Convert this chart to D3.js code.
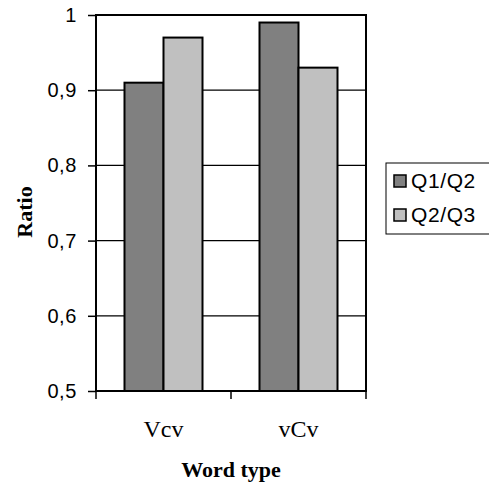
<!DOCTYPE html>
<html>
<head>
<meta charset="utf-8">
<script src="https://cdn.jsdelivr.net/npm/d3@7"></script>
<style>
  body { margin: 0; background: #fff; }
  .tick text { font-family: "Liberation Sans", Arial, sans-serif; }
</style>
</head>
<body>
<div id="chart"></div>
<script>
// word types on the x axis
var wordTypes = ["Vcv", "vCv"];
// the two ratio series
var seriesNames = ["Q1/Q2", "Q2/Q3"];
var q1q2 = [0.91, 0.99];
var q2q3 = [0.97, 0.93];
var yTicks = [0.5, 0.6, 0.7, 0.8, 0.9, 1];

var colors = ["#808080", "#c0c0c0"];

var margin = {top: 15, right: 123, bottom: 95, left: 96};
var width = 489 - margin.left - margin.right;
var height = 486 - margin.top - margin.bottom;

var svg = d3.select("#chart")
    .append("svg")
    .attr("width", 489)
    .attr("height", 486)
    .append("g")
    .attr("transform", "translate(" + margin.left + "," + margin.top + ")");

var data = wordTypes.map(function (d, i) {
    return {type: d, values: [q1q2[i], q2q3[i]]};
});

// scales
var x = d3.scaleBand()
    .domain(wordTypes)
    .range([0, width]);

var xInner = d3.scaleBand()
    .domain(seriesNames)
    .range([0, 78]);

var y = d3.scaleLinear()
    .domain([0.5, 1])
    .range([height, 0]);

// gridlines
svg.append("g")
    .selectAll("line")
    .data(yTicks.slice(1, -1))
    .enter()
    .append("line")
    .attr("x1", 0)
    .attr("x2", width)
    .attr("y1", function (d) { return y(d); })
    .attr("y2", function (d) { return y(d); })
    .attr("stroke", "#000")
    .attr("stroke-width", 1.2);

// bars
var groups = svg.append("g")
    .selectAll("g")
    .data(data)
    .enter()
    .append("g")
    .attr("transform", function (d) {
        return "translate(" + (x(d.type) + (x.bandwidth() - 78) / 2) + ",0)";
    });

groups.selectAll("rect")
    .data(function (d) { return d.values; })
    .enter()
    .append("rect")
    .attr("x", function (d, i) { return xInner(seriesNames[i]); })
    .attr("y", function (d) { return y(d); })
    .attr("width", xInner.bandwidth())
    .attr("height", function (d) { return height - y(d); })
    .attr("fill", function (d, i) { return colors[i]; })
    .attr("stroke", "#000")
    .attr("stroke-width", 2);

// plot frame
svg.append("rect")
    .attr("x", 0)
    .attr("y", 0)
    .attr("width", width)
    .attr("height", height)
    .attr("fill", "none")
    .attr("stroke", "#000")
    .attr("stroke-width", 2);

// y axis
var yAxis = svg.append("g")
    .call(d3.axisLeft(y)
        .tickValues(yTicks)
        .tickSize(8)
        .tickPadding(11)
        .tickFormat(function (d) { return d3.format(".1f")(d).replace(".", ",").replace(",0", ""); }));
yAxis.select(".domain").remove();
yAxis.selectAll(".tick line").attr("stroke", "#000").attr("stroke-width", 1.5);
yAxis.selectAll(".tick text")
    .attr("font-size", 20)
    .attr("fill", "#000")
    .attr("letter-spacing", 0.6);

// x axis ticks at category boundaries
svg.append("g")
    .selectAll("line")
    .data([0, 1, 2])
    .enter()
    .append("line")
    .attr("x1", function (d) { return d * x.bandwidth(); })
    .attr("x2", function (d) { return d * x.bandwidth(); })
    .attr("y1", height)
    .attr("y2", height + 8)
    .attr("stroke", "#000")
    .attr("stroke-width", 1.5);

svg.append("g")
    .selectAll("text")
    .data(wordTypes)
    .enter()
    .append("text")
    .attr("x", function (d) { return x(d) + x.bandwidth() / 2; })
    .attr("y", height + 46)
    .attr("text-anchor", "middle")
    .attr("font-family", "'Liberation Serif', 'Times New Roman', serif")
    .attr("font-size", 24)
    .text(function (d) { return d; });

// axis titles
svg.append("text")
    .attr("x", width / 2)
    .attr("y", height + 86)
    .attr("text-anchor", "middle")
    .attr("font-family", "'Liberation Serif', 'Times New Roman', serif")
    .attr("font-weight", "bold")
    .attr("font-size", 22)
    .text("Word type");

svg.append("text")
    .attr("transform", "translate(" + (-64) + "," + 197 + ") rotate(-90)")
    .attr("text-anchor", "middle")
    .attr("font-family", "'Liberation Serif', 'Times New Roman', serif")
    .attr("font-weight", "bold")
    .attr("font-size", 22)
    .text("Ratio");

// legend
var legend = d3.select("svg").append("g")
    .attr("transform", "translate(386,163)");

legend.append("rect")
    .attr("x", 0)
    .attr("y", 0)
    .attr("width", 110)
    .attr("height", 71)
    .attr("fill", "#fff")
    .attr("stroke", "#000")
    .attr("stroke-width", 1);

var items = legend.selectAll(".item")
    .data(seriesNames)
    .enter()
    .append("g")
    .attr("class", "item")
    .attr("transform", function (d, i) { return "translate(8," + (25 + i * 34) + ")"; });

items.append("rect")
    .attr("x", 0)
    .attr("y", -13)
    .attr("width", 12)
    .attr("height", 12)
    .attr("fill", function (d, i) { return colors[i]; })
    .attr("stroke", "#000")
    .attr("stroke-width", 1.5);

items.append("text")
    .attr("x", 17)
    .attr("y", 0)
    .attr("font-family", "'Liberation Sans', Arial, sans-serif")
    .attr("font-size", 21)
    .attr("letter-spacing", 0.6)
    .text(function (d) { return d; });
</script>
</body>
</html>
